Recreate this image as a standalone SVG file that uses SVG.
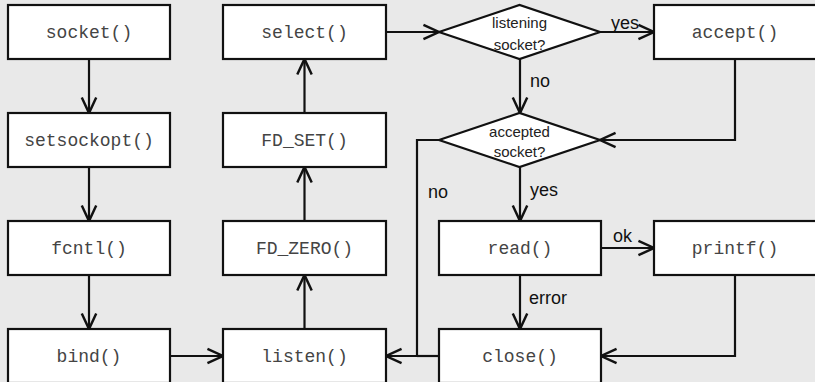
<svg xmlns="http://www.w3.org/2000/svg" width="815" height="382" viewBox="0 0 815 382">
<defs>
<marker id="arr" markerUnits="userSpaceOnUse" markerWidth="20" markerHeight="20" viewBox="-16 -8 18 16" refX="0" refY="0" orient="auto" overflow="visible">
<path d="M-14,-6.5 L0,0 L-14,6.5" fill="none" stroke="#111" stroke-width="2.2"/>
</marker>
</defs>
<style>
.box{fill:#fff;stroke:#111;stroke-width:2.2}
.code{font-family:"Liberation Mono",monospace;font-size:18px;fill:#444;text-anchor:middle}
.dtext{font-family:"Liberation Sans",Arial,sans-serif;font-size:15px;fill:#222;text-anchor:middle}
.lbl{font-family:"Liberation Sans",Arial,sans-serif;font-size:18px;fill:#111}
.ln{fill:none;stroke:#111;stroke-width:2.2}
</style>
<rect x="0" y="0" width="815" height="382" fill="#e9e9e9"/>

<g id="connectors">
<path class="ln" d="M89,59 V113" marker-end="url(#arr)"/>
<path class="ln" d="M89,167 V221" marker-end="url(#arr)"/>
<path class="ln" d="M89,275 V329" marker-end="url(#arr)"/>
<path class="ln" d="M170,356 H223" marker-end="url(#arr)"/>
<path class="ln" d="M304.5,329 V275" marker-end="url(#arr)"/>
<path class="ln" d="M304.5,221 V167" marker-end="url(#arr)"/>
<path class="ln" d="M304.5,113 V59" marker-end="url(#arr)"/>
<path class="ln" d="M386,32 H439" marker-end="url(#arr)"/>
<path class="ln" d="M600,32 H654" marker-end="url(#arr)"/>
<path class="ln" d="M520,59 V113" marker-end="url(#arr)"/>
<path class="ln" d="M735,59 V140 H600" marker-end="url(#arr)"/>
<path class="ln" d="M439,140 H417 V356 H386" marker-end="url(#arr)"/>
<path class="ln" d="M439,356 H417"/>
<path class="ln" d="M520,167 V221" marker-end="url(#arr)"/>
<path class="ln" d="M601,248 H654" marker-end="url(#arr)"/>
<path class="ln" d="M520,275 V329" marker-end="url(#arr)"/>
<path class="ln" d="M735,275 V356 H601" marker-end="url(#arr)"/>
<text class="lbl" x="611" y="29">yes</text>
<text class="lbl" x="530" y="87">no</text>
<text class="lbl" x="428" y="198">no</text>
<text class="lbl" x="530" y="196">yes</text>
<text class="lbl" x="613" y="242">ok</text>
<text class="lbl" x="529" y="304">error</text>
</g>

<g id="socket"><rect class="box" x="8" y="5" width="162" height="54"/><text class="code" x="89" y="38">socket()</text></g>
<g id="setsockopt"><rect class="box" x="8" y="113" width="162" height="54"/><text class="code" x="89" y="146">setsockopt()</text></g>
<g id="fcntl"><rect class="box" x="8" y="221" width="162" height="54"/><text class="code" x="89" y="254">fcntl()</text></g>
<g id="bind"><rect class="box" x="8" y="329" width="162" height="54"/><text class="code" x="89" y="362">bind()</text></g>

<g id="select"><rect class="box" x="223" y="5" width="163" height="54"/><text class="code" x="304.5" y="38">select()</text></g>
<g id="fd_set"><rect class="box" x="223" y="113" width="163" height="54"/><text class="code" x="304.5" y="146">FD_SET()</text></g>
<g id="fd_zero"><rect class="box" x="223" y="221" width="163" height="54"/><text class="code" x="304.5" y="254">FD_ZERO()</text></g>
<g id="listen"><rect class="box" x="223" y="329" width="163" height="54"/><text class="code" x="304.5" y="362">listen()</text></g>

<g id="listening"><polygon class="box" points="439,32 519.5,5 600,32 519.5,59"/><text class="dtext" x="519.5" y="28">listening</text><text class="dtext" x="519.5" y="50">socket?</text></g>
<g id="accepted"><polygon class="box" points="439,140 519.5,113 600,140 519.5,167"/><text class="dtext" x="519.5" y="137">accepted</text><text class="dtext" x="519.5" y="157">socket?</text></g>
<g id="read"><rect class="box" x="439" y="221" width="162" height="54"/><text class="code" x="520" y="254">read()</text></g>
<g id="close"><rect class="box" x="439" y="329" width="162" height="54"/><text class="code" x="520" y="362">close()</text></g>

<g id="accept"><rect class="box" x="654" y="5" width="164" height="54"/><text class="code" x="735" y="38">accept()</text></g>
<g id="printf"><rect class="box" x="654" y="221" width="164" height="54"/><text class="code" x="735" y="254">printf()</text></g>
</svg>
